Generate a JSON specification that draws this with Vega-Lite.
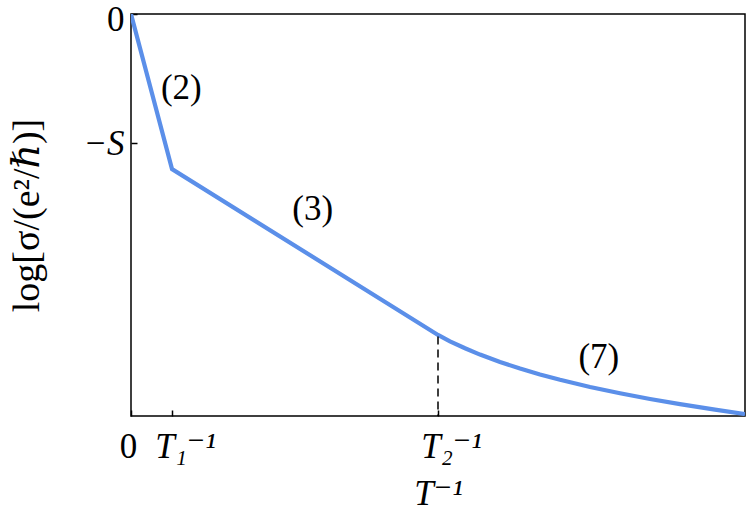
{
  "$schema": "https://vega.github.io/schema/vega-lite/v6.json",
  "width": 614,
  "height": 402,
  "autosize": "none",
  "padding": {"left": 131, "top": 14, "right": 3, "bottom": 97},
  "background": "white",
  "config": {
    "view": {"stroke": "black", "strokeWidth": 1.5},
    "font": "Liberation Serif, DejaVu Serif, serif"
  },
  "datasets": {
    "curve": [
      {"x": 0, "y": 0},
      {"x": 0.668, "y": -1.202},
      {"x": 5.0, "y": -2.488},
      {"x": 5.195, "y": -2.537},
      {"x": 5.44, "y": -2.591},
      {"x": 5.684, "y": -2.64},
      {"x": 6.01, "y": -2.698},
      {"x": 6.336, "y": -2.748},
      {"x": 6.661, "y": -2.794},
      {"x": 6.987, "y": -2.835},
      {"x": 7.476, "y": -2.891},
      {"x": 7.964, "y": -2.94},
      {"x": 8.453, "y": -2.984},
      {"x": 8.941, "y": -3.024},
      {"x": 9.511, "y": -3.067},
      {"x": 10, "y": -3.101}
    ],
    "dash": [
      {"x": 5.0, "y1": -2.5, "y2": -3.116}
    ],
    "labels": [
      {"x": 0.82, "y": -0.57, "label": "(2)"},
      {"x": 2.96, "y": -1.51, "label": "(3)"},
      {"x": 7.62, "y": -2.66, "label": "(7)"}
    ]
  },
  "layer": [
    {
      "data": {"name": "curve"},
      "mark": {"type": "line", "color": "#5B8FE9", "strokeWidth": 4.2, "clip": true},
      "encoding": {
        "x": {
          "field": "x", "type": "quantitative",
          "scale": {"domain": [0, 10], "nice": false, "zero": false},
          "axis": {
            "values": [0, 0.668, 5.0],
            "labelExpr": "datum.value == 0 ? '0' : (datum.value < 1 ? 'T₁⁻¹' : 'T₂⁻¹')",
            "domain": false, "grid": false,
            "tickSize": -6, "tickWidth": 1.5, "tickColor": "black",
            "labelFontSize": 35, "labelColor": "black", "labelPadding": 19,
            "labelFont": "Liberation Serif, DejaVu Serif, serif",
            "labelFontStyle": {"condition": {"test": "datum.value == 0", "value": "normal"}, "value": "italic"},
            "labelOffset": {"condition": {"test": "datum.value == 0", "value": -3}, "value": 13},
            "labelFlush": false, "labelOverlap": false,
            "title": "T⁻¹", "titleFontSize": 35, "titleFontStyle": "italic",
            "titleFontWeight": "normal", "titleColor": "black", "titlePadding": 12,
            "titleFont": "Liberation Serif, DejaVu Serif, serif"
          }
        },
        "y": {
          "field": "y", "type": "quantitative",
          "scale": {"domain": [-3.116, 0], "nice": false, "zero": false},
          "axis": {
            "values": [0, -1],
            "labelExpr": "datum.value == 0 ? '0' : '−S'",
            "domain": false, "grid": false,
            "tickSize": -6, "tickWidth": 1.5, "tickColor": "black",
            "labelFontSize": 35, "labelColor": "black", "labelPadding": 13,
            "labelFont": "Liberation Serif, DejaVu Serif, serif",
            "labelFontStyle": {"condition": {"test": "datum.value == 0", "value": "normal"}, "value": "italic"},
            "labelOffset": {"condition": {"test": "datum.value == 0", "value": 5}, "value": 0},
            "labelFlush": false, "labelOverlap": false,
            "title": "log[σ/(e²/ℏ)]", "titleFontSize": 38, "titleFontWeight": "normal",
            "titleColor": "black", "titlePadding": 36, "titleFont": "Liberation Serif, DejaVu Serif, serif"
          }
        }
      }
    },
    {
      "data": {"name": "dash"},
      "mark": {"type": "rule", "color": "black", "strokeWidth": 1.5, "strokeDash": [8, 5]},
      "encoding": {
        "x": {"field": "x", "type": "quantitative"},
        "y": {"field": "y1", "type": "quantitative"},
        "y2": {"field": "y2"}
      }
    },
    {
      "data": {"name": "labels"},
      "mark": {"type": "text", "fontSize": 35, "font": "Liberation Serif, DejaVu Serif, serif", "color": "black", "baseline": "middle", "align": "center"},
      "encoding": {
        "x": {"field": "x", "type": "quantitative"},
        "y": {"field": "y", "type": "quantitative"},
        "text": {"field": "label"}
      }
    }
  ]
}
